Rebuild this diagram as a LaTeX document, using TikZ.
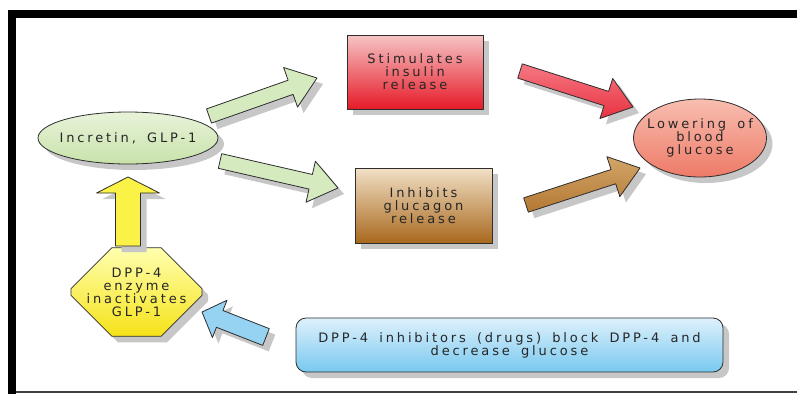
\documentclass[tikz,border=0pt]{standalone}
\usepackage{fontspec}
\setmainfont{DejaVu Sans}[LetterSpace=22, WordSpace=1.6]
\usetikzlibrary{shapes.geometric, shapes.misc, calc, shadows, positioning}

\definecolor{linec}{RGB}{45,45,45}
\definecolor{greentop}{RGB}{232,243,218}
\definecolor{greenbot}{RGB}{200,226,170}
\definecolor{greenarr}{RGB}{214,234,192}
\definecolor{redtop}{RGB}{246,196,196}
\definecolor{redbot}{RGB}{230,26,40}
\definecolor{redarrtop}{RGB}{245,120,130}
\definecolor{redarrbot}{RGB}{232,50,65}
\definecolor{browntop}{RGB}{242,224,198}
\definecolor{brownbot}{RGB}{168,104,30}
\definecolor{brownarrtop}{RGB}{210,165,105}
\definecolor{brownarrbot}{RGB}{180,120,50}
\definecolor{salmontop}{RGB}{248,190,176}
\definecolor{salmonbot}{RGB}{238,122,104}
\definecolor{yeltop}{RGB}{255,255,175}
\definecolor{yelbot}{RGB}{245,226,25}
\definecolor{yelarr}{RGB}{250,242,70}
\definecolor{bluetop}{RGB}{222,241,251}
\definecolor{bluebot}{RGB}{120,200,240}
\definecolor{bluearr}{RGB}{150,210,242}

\tikzset{
  shade/.style={drop shadow={shadow xshift=6pt, shadow yshift=-6pt, fill=black!22, opacity=1}},
  box/.style={draw=linec, line width=0.8pt, shade, inner sep=0pt, align=center,
    text=black!85, font=\fontsize{13}{13}\selectfont},
  arrowline/.style={draw=linec, line width=0.8pt, shade}
}

% fat arrow: #1 style, #2 tail, #3 tip, #4 half shaft, #5 half head, #6 head length
\newcommand{\fatarrow}[6]{%
  \coordinate (fa-m) at ($(#3)!#6!(#2)$);
  \draw[arrowline, #1] ($(#2)!#4!90:(#3)$) -- ($(fa-m)!#4!90:(#3)$) -- ($(fa-m)!#5!90:(#3)$)
    -- (#3) -- ($(fa-m)!#5!-90:(#3)$) -- ($(fa-m)!#4!-90:(#3)$) -- ($(#2)!#4!-90:(#3)$) -- cycle;}

\begin{document}
\begin{tikzpicture}[x=1pt,y=-1pt,line join=round]
\useasboundingbox (0,0) rectangle (797,394);
% frame
\fill[black] (8,10) rectangle (797,18);
\fill[black] (8,10) rectangle (16,394);
\draw[line width=1.2pt,black!75] (16,392) -- (797,392);

% nodes
\node[box, ellipse, inner xsep=-20pt, minimum width=180pt, minimum height=52pt, top color=greentop, bottom color=greenbot] (incretin) at (128,138) {Incretin, GLP-1};
\node[box, rectangle, minimum width=136pt, minimum height=74pt, top color=redtop, bottom color=redbot] (insulin) at (415,72) {Stimulates\\insulin\\release};
\node[box, rectangle, minimum width=137pt, minimum height=75pt, top color=browntop, bottom color=brownbot] (glucagon) at (423.5,205.5) {Inhibits\\glucagon\\release};
\node[box, ellipse, inner xsep=-25pt, minimum width=133pt, minimum height=78pt, top color=salmontop, bottom color=salmonbot] (lowering) at (700,138) {Lowering of\\blood\\glucose};
\node[box, chamfered rectangle, inner xsep=-15pt, chamfered rectangle xsep=21pt, chamfered rectangle ysep=20pt, minimum width=131pt, minimum height=70pt, top color=yeltop, bottom color=yelbot] (dpp) at (136.5,292) {DPP-4\\enzyme\\inactivates\\GLP-1};
\node[box, rectangle, rounded corners=10pt, minimum width=427pt, minimum height=54pt, top color=bluetop, bottom color=bluebot] (drugs) at (509.5,345) {DPP-4 inhibitors (drugs) block DPP-4 and\\decrease glucose};

% arrow ends
\coordinate (g1a) at (209,116); \coordinate (g1b) at (317,78);
\coordinate (g2a) at (220,161); \coordinate (g2b) at (338,188);
\coordinate (r1a) at (520,71);  \coordinate (r1b) at (633,107);
\coordinate (b1a) at (526,205); \coordinate (b1b) at (640,168);
\coordinate (y1a) at (128,246); \coordinate (y1b) at (128,177);
\coordinate (c1a) at (266,337); \coordinate (c1b) at (202,312);

\fatarrow{fill=greenarr}{g1a}{g1b}{7.5pt}{21pt}{28pt}
\fatarrow{fill=greenarr}{g2a}{g2b}{7.5pt}{21pt}{28pt}
\fatarrow{top color=redarrtop, bottom color=redarrbot}{r1a}{r1b}{7.5pt}{21pt}{28pt}
\fatarrow{top color=brownarrtop, bottom color=brownarrbot}{b1a}{b1b}{7.5pt}{21pt}{28pt}
\fatarrow{fill=yelarr}{y1a}{y1b}{12.5pt}{31.5pt}{16pt}
\fatarrow{fill=bluearr}{c1a}{c1b}{9pt}{20pt}{19pt}
\end{tikzpicture}
\end{document}
